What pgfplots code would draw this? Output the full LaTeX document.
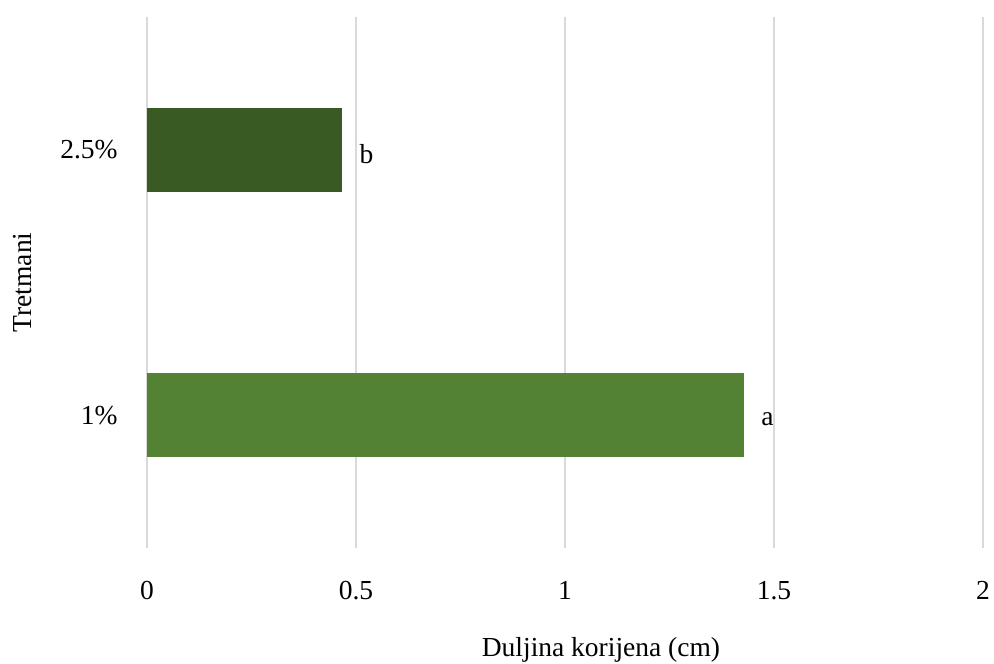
\documentclass[border=0pt]{standalone}
\usepackage{pgfplots}
\pgfplotsset{compat=1.18}
\usepackage{fontspec}
\setmainfont{Liberation Serif}
\definecolor{gridgray}{HTML}{D9D9D9}
\definecolor{darkg}{HTML}{3A5A24}
\definecolor{lightg}{HTML}{548235}
\begin{document}
\fontsize{27.5}{33}\selectfont
\begin{tikzpicture}
\useasboundingbox (0,0) rectangle (994pt,664pt);
\begin{axis}[
  at={(147pt,116pt)}, anchor=south west,
  scale only axis, width=836pt, height=531pt,
  xbar, bar width=84pt,
  xmin=0, xmax=2, ymin=-0.5, ymax=1.5,
  xtick={0,0.5,1,1.5,2},
  ytick={0,1}, yticklabels={1\%,2.5\%},
  xmajorgrids, grid style={draw=gridgray, line width=1.5pt},
  axis line style={draw=none},
  major tick length=0pt,
  /pgf/number format/assume math mode=true,
  xticklabel style={yshift=-24pt},
  yticklabel style={xshift=-20pt},
  xlabel={Duljina korijena (cm)},
  ylabel={Tretmani},
  xlabel style={at={(axis description cs:0.5,0)}, anchor=base, yshift=-109pt, xshift=36pt},
  ylabel style={at={(axis description cs:0,0.5)}, anchor=center, yshift=124pt},
  clip=false,
  nodes near coords,
  point meta=explicit symbolic,
  nodes near coords style={anchor=west, xshift=8pt, yshift=-4pt, text=black},
]
\addplot[fill=lightg, draw=none, bar shift=0pt] coordinates {(1.428,0) [a]};
\addplot[fill=darkg, draw=none, bar shift=0pt] coordinates {(0.467,1) [b]};
\end{axis}
\end{tikzpicture}
\end{document}
